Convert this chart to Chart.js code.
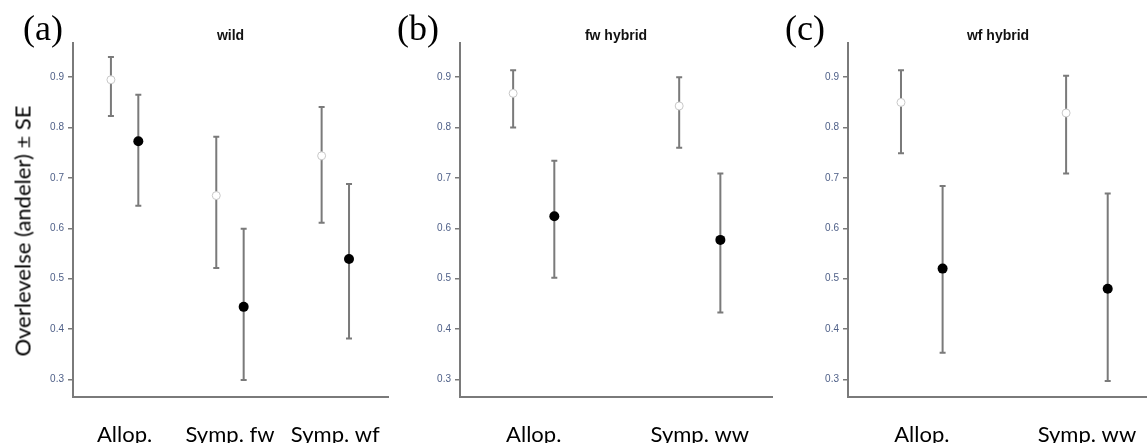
<!DOCTYPE html>
<html>
<head>
<meta charset="utf-8">
<script src="https://cdn.jsdelivr.net/npm/chart.js@4.4.0/dist/chart.umd.min.js"></script>
<style>
  body { margin: 0; background: #fff; overflow: hidden; }
  #wrap { position: relative; width: 1147px; height: 443px; overflow: hidden; }
  canvas { position: absolute; top: 0; }
  .letter { position: absolute; top: 10px; font-family: "Liberation Serif", "DejaVu Serif", serif; font-size: 36px; line-height: 36px; color: #000; }
  #ytitle { position: absolute; left: 22px; top: 231px; transform: translate(-50%, -50%) rotate(-90deg);
            font-family: Lato, "Open Sans", sans-serif; font-size: 22px; white-space: nowrap; color: #000; }
</style>
</head>
<body>
<div id="wrap">
  <canvas id="panel-a" width="393" height="443" style="left:0px"></canvas>
  <canvas id="panel-b" width="357" height="443" style="left:420px"></canvas>
  <canvas id="panel-c" width="345" height="443" style="left:808px"></canvas>
  <div class="letter" style="left:23px">(a)</div>
  <div class="letter" style="left:397px">(b)</div>
  <div class="letter" style="left:785px">(c)</div>
  <div id="ytitle">Overlevelse (andeler) ± SE</div>
</div>
<script>
// tick labels on the y axis
const yTicks = [0.3, 0.4, 0.5, 0.6, 0.7, 0.8, 0.9];

// (a) wild
const wildCats = ["Allop.", "Symp. fw", "Symp. wf"];
const wildOpen = [0.895, 0.665, 0.744];
const wildOpenLo = [0.823, 0.521, 0.611];
const wildOpenHi = [0.940, 0.782, 0.841];
const wildFilled = [0.773, 0.444, 0.539];
const wildFilledLo = [0.645, 0.299, 0.381];
const wildFilledHi = [0.865, 0.599, 0.688];

// (b) fw hybrid
const fwCats = ["Allop.", "Symp. ww"];
const fwOpen = [0.868, 0.843];
const fwOpenLo = [0.800, 0.760];
const fwOpenHi = [0.914, 0.900];
const fwFilled = [0.624, 0.577];
const fwFilledLo = [0.502, 0.433];
const fwFilledHi = [0.734, 0.709];

// (c) wf hybrid
const wfCats = ["Allop.", "Symp. ww"];
const wfOpen = [0.850, 0.829];
const wfOpenLo = [0.749, 0.709];
const wfOpenHi = [0.914, 0.903];
const wfFilled = [0.520, 0.480];
const wfFilledLo = [0.353, 0.297];
const wfFilledHi = [0.684, 0.669];

const lineGray = "#7a7a7a";

// draws the ± SE bars under the points
const errorBars = {
    id: "errorBars",
    beforeDatasetsDraw(chart) {
        const ctx = chart.ctx;
        const xs = chart.scales.x, ys = chart.scales.y;
        ctx.save();
        ctx.strokeStyle = lineGray;
        ctx.lineWidth = 2;
        chart.data.datasets.forEach(ds => {
            ds.data.forEach((p, i) => {
                const x = xs.getPixelForValue(p.x);
                const top = ys.getPixelForValue(ds.hi[i]);
                const bot = ys.getPixelForValue(ds.lo[i]);
                ctx.beginPath();
                ctx.moveTo(x, top); ctx.lineTo(x, bot);
                ctx.moveTo(x - 3, top); ctx.lineTo(x + 3, top);
                ctx.moveTo(x - 3, bot); ctx.lineTo(x + 3, bot);
                ctx.stroke();
            });
        });
        ctx.restore();
    }
};

function makePanel(id, title, cats, open, openLo, openHi, filled, filledLo, filledHi, xMin, xMax, yWidth, off) {
    const ctx = document.getElementById(id).getContext("2d");
    new Chart(ctx, {
        type: "scatter",
        data: {
            datasets: [{
                data: open.map((v, i) => ({ x: i + 1 - off, y: v })),
                lo: openLo, hi: openHi,
                pointRadius: 4,
                pointBackgroundColor: "#fff",
                pointBorderColor: "#c8c8c8",
                pointBorderWidth: 1
            }, {
                data: filled.map((v, i) => ({ x: i + 1 + off, y: v })),
                lo: filledLo, hi: filledHi,
                pointRadius: 5,
                pointBackgroundColor: "#000",
                pointBorderColor: "#000",
                pointBorderWidth: 0
            }]
        },
        options: {
            responsive: false,
            animation: false,
            devicePixelRatio: 1,
            layout: { padding: 0 },
            plugins: {
                legend: { display: false },
                tooltip: { enabled: false },
                title: {
                    display: true,
                    text: title,
                    fullSize: false,
                    color: "#111",
                    font: { family: "Liberation Sans, Arial, sans-serif", size: 14, weight: "bold", lineHeight: 1 },
                    padding: { top: 29, bottom: 0 }
                }
            },
            scales: {
                x: {
                    type: "linear",
                    min: xMin,
                    max: xMax,
                    afterFit: s => { s.height = 46; s.paddingLeft = 0; s.paddingRight = 0; },
                    afterBuildTicks: s => { s.ticks = cats.map((c, i) => ({ value: i + 1 })); },
                    grid: { display: false, drawTicks: false },
                    border: { display: true, color: lineGray, width: 2 },
                    ticks: {
                        autoSkip: false,
                        maxRotation: 0,
                        padding: 25,
                        color: "#000",
                        font: { family: "Lato, Open Sans, sans-serif", size: 22 },
                        callback: v => cats[Math.round(v) - 1]
                    }
                },
                y: {
                    min: 0.265,
                    max: 0.968,
                    afterFit: s => { s.width = yWidth; s.paddingTop = 0; s.paddingBottom = 0; },
                    afterBuildTicks: s => { s.ticks = yTicks.map(v => ({ value: v })); },
                    grid: { drawOnChartArea: false, drawTicks: true, tickLength: 5, color: lineGray, lineWidth: 1.5 },
                    border: { display: true, color: lineGray, width: 2 },
                    ticks: {
                        padding: 4,
                        color: "#4f6088",
                        font: { family: "Liberation Sans, Arial, sans-serif", size: 10 },
                        callback: v => v.toFixed(1)
                    }
                }
            }
        },
        plugins: [errorBars]
    });
}

makePanel("panel-a", "wild", wildCats, wildOpen, wildOpenLo, wildOpenHi, wildFilled, wildFilledLo, wildFilledHi, 0.51, 3.5, 73, 0.13);
makePanel("panel-b", "fw hybrid", fwCats, fwOpen, fwOpenLo, fwOpenHi, fwFilled, fwFilledLo, fwFilledHi, 0.556, 2.435, 40, 0.124);
makePanel("panel-c", "wf hybrid", wfCats, wfOpen, wfOpenLo, wfOpenHi, wfFilled, wfFilledLo, wfFilledHi, 0.553, 2.37, 40, 0.126);
</script>
</body>
</html>
